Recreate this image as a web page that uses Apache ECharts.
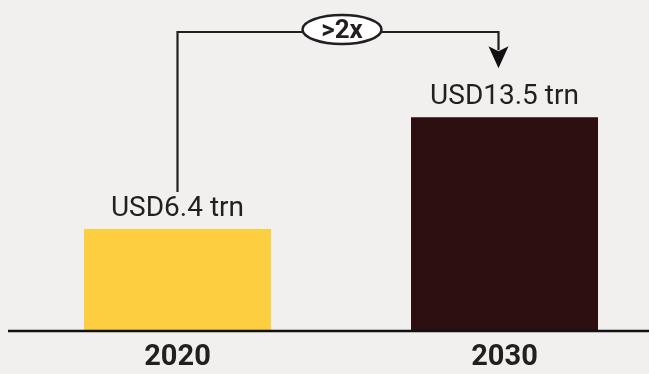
<!DOCTYPE html>
<html>
<head>
<meta charset="utf-8">
<script src="https://cdn.jsdelivr.net/npm/echarts@6/dist/echarts.min.js"></script>
<style>
  html, body { margin: 0; padding: 0; background: #f1f0ee; }
  #chart { width: 649px; height: 374px; }
</style>
</head>
<body>
<div id="chart"></div>
<script>
// Market size, trillions of US dollars
const years = ['2020', '2030'];
const values = [6.4, 13.5];
const valueLabels = ['USD6.4 trn', 'USD13.5 trn'];
const barColors = ['#fdce40', '#2d0e11'];
const growthText = '>2x';

const ink = '#231f20';
const chart = echarts.init(document.getElementById('chart'), null, { renderer: 'canvas' });

chart.setOption({
  backgroundColor: '#f1f0ee',
  animation: false,
  grid: { left: 177.5, right: 144.5, top: 10, bottom: 44, containLabel: false },
  xAxis: {
    type: 'category',
    data: years,
    boundaryGap: false,
    axisLine: { show: false },
    axisTick: { show: false },
    axisLabel: {
      margin: 13,
      fontFamily: 'Roboto',
      fontWeight: 'bold',
      fontSize: 29,
      color: ink
    }
  },
  yAxis: { type: 'value', min: 0, max: 20.3, show: false, splitLine: { show: false } },
  series: [{
    type: 'bar',
    barWidth: 187,
    data: values.map((v, i) => ({ value: v, itemStyle: { color: barColors[i] } })),
    label: {
      show: true,
      position: 'top',
      distance: 6,
      fontFamily: 'Roboto',
      fontSize: 28,
      color: ink,
      formatter: p => valueLabels[p.dataIndex]
    }
  }]
});

// Baseline and growth connector, placed from the axis scales
function drawOverlay() {
  const p0 = chart.convertToPixel({ gridIndex: 0 }, [0, values[0]]);
  const p1 = chart.convertToPixel({ gridIndex: 0 }, [1, values[1]]);
  const base = chart.convertToPixel({ gridIndex: 0 }, [0, 0])[1];
  const x0 = p0[0], x1 = p1[0] - 6;
  const yTop = 32;
  const leftEnd = p0[1] - 37;
  const tipY = p1[1] - 49;
  const midX = 342;
  chart.setOption({
    graphic: [
      {
        type: 'line', shape: { x1: 8, y1: base + 1, x2: 649, y2: base + 1 },
        style: { stroke: '#111', lineWidth: 2.5 }, z: 10
      },
      {
        type: 'polyline',
        shape: { points: [[x0, leftEnd], [x0, yTop], [x1, yTop], [x1, tipY - 18]] },
        style: { stroke: ink, lineWidth: 2.2, fill: null }, z: 10
      },
      {
        type: 'polygon',
        shape: { points: [[x1 - 10, tipY - 22], [x1, tipY - 17], [x1 + 10, tipY - 22], [x1, tipY]] },
        style: { fill: '#111' }, z: 11
      },
      {
        type: 'ellipse',
        shape: { cx: midX, cy: 29.5, rx: 39.5, ry: 14.5 },
        style: { fill: '#ffffff', stroke: ink, lineWidth: 2.5 }, z: 12
      },
      {
        type: 'text', x: midX, y: 31,
        style: {
          text: growthText, fontFamily: 'Roboto', fontWeight: 'bold', fontSize: 26,
          fill: ink, align: 'center', verticalAlign: 'middle'
        }, z: 13
      }
    ]
  });
}
drawOverlay();
</script>
</body>
</html>
